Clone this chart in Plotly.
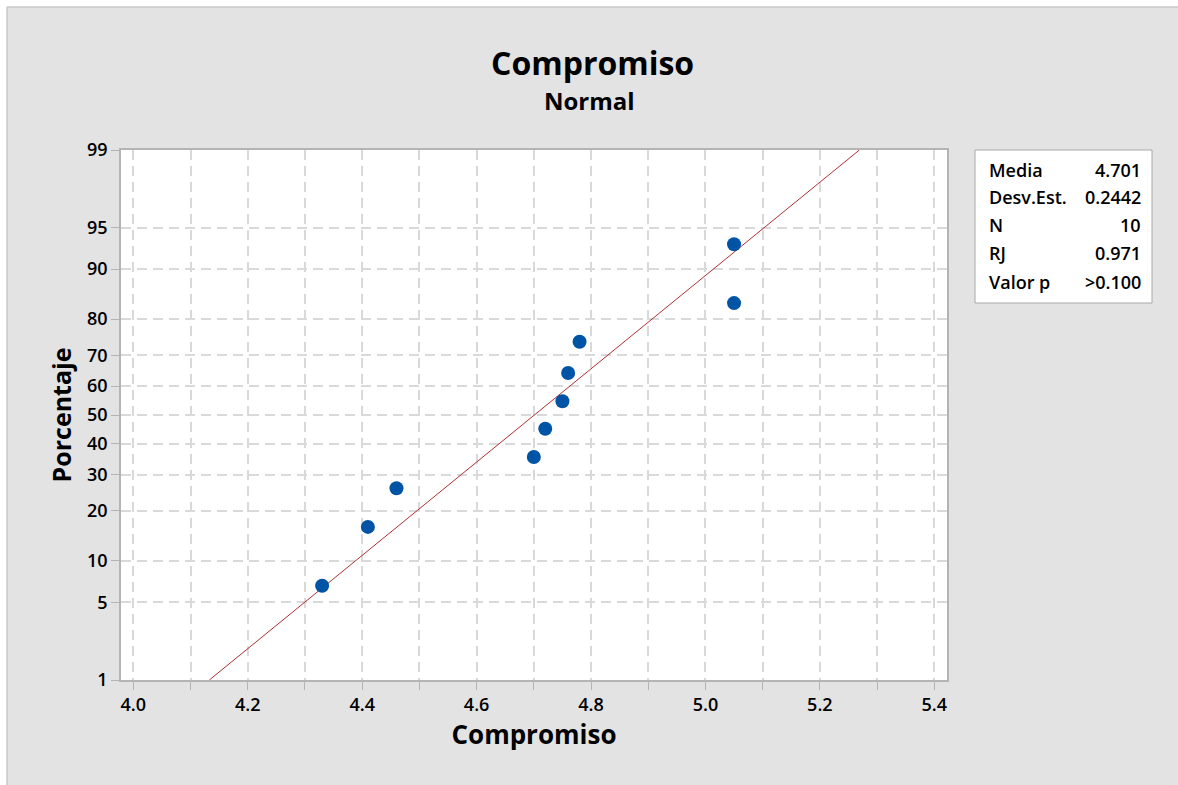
from statistics import NormalDist
import plotly.graph_objects as go

# ---- data ----
compromiso = [4.33, 4.41, 4.46, 4.70, 4.72, 4.75, 4.76, 4.78, 5.05, 5.05]
porcentaje = [6.7, 16.3, 26.0, 35.6, 45.2, 54.8, 64.4, 74.0, 83.7, 93.3]
media = 4.701
desv_est = 0.2442
fit_pct = [1, 99]
y_tick_pct = [1, 5, 10, 20, 30, 40, 50, 60, 70, 80, 90, 95, 99]
x_tick_vals = [4.0, 4.1, 4.2, 4.3, 4.4, 4.5, 4.6, 4.7, 4.8, 4.9, 5.0, 5.1, 5.2, 5.3, 5.4]
x_tick_text = ["4.0", "", "4.2", "", "4.4", "", "4.6", "", "4.8", "", "5.0", "", "5.2", "", "5.4"]
stats_labels = ["Media", "Desv.Est.", "N", "RJ", "Valor p"]
stats_values = ["4.701", "0.2442", "10", "0.971", ">0.100"]

nd = NormalDist()
def z(p):
    return nd.inv_cdf(p / 100.0)

fit_z = [z(p) for p in fit_pct]
fit_x = [media + desv_est * zz for zz in fit_z]

FONT = "Open Sans"
fig = go.Figure()
fig.add_trace(go.Scatter(x=fit_x, y=fit_z, mode="lines",
                         line=dict(color="#b03030", width=1), hoverinfo="skip"))
fig.add_trace(go.Scatter(x=compromiso, y=[z(p) for p in porcentaje], mode="markers",
                         marker=dict(color="#0054a6", size=14)))

W, H = 1178, 785
ml, mr, mt, mb = 121, 231, 150, 105
pw, ph = W - ml - mr, H - mt - mb
def px(xp):
    return (xp - ml) / pw
def py(yp):
    return (H - mb - yp) / ph

shapes = [
    # white outer margin on top and left
    dict(type="rect", xref="paper", yref="paper", layer="above",
         x0=px(-5), x1=px(W + 5), y0=py(7), y1=py(-5),
         fillcolor="white", line=dict(width=0)),
    dict(type="rect", xref="paper", yref="paper", layer="above",
         x0=px(-5), x1=px(7), y0=py(H + 5), y1=py(-5),
         fillcolor="white", line=dict(width=0)),
    dict(type="line", xref="paper", yref="paper",
         x0=px(7), x1=px(W + 5), y0=py(7), y1=py(7),
         line=dict(color="#c8c8c8", width=1.5)),
    dict(type="line", xref="paper", yref="paper",
         x0=px(7), x1=px(7), y0=py(7), y1=py(H + 5),
         line=dict(color="#c8c8c8", width=1.5)),
    # statistics box
    dict(type="rect", xref="paper", yref="paper",
         x0=px(975), x1=px(1152), y0=py(303), y1=py(150),
         fillcolor="white", line=dict(color="#a8a8a8", width=1)),
]
annotations = []
row_y = [170, 197, 225, 253, 282]
for lab, val, ry in zip(stats_labels, stats_values, row_y):
    annotations.append(dict(xref="paper", yref="paper", x=px(987), y=py(ry),
                            text=lab, showarrow=False, xanchor="left", yanchor="middle",
                            font=dict(family=FONT, size=18, color="black", weight=600)))
    annotations.append(dict(xref="paper", yref="paper", x=px(1143), y=py(ry),
                            text=val, showarrow=False, xanchor="right", yanchor="middle",
                            font=dict(family=FONT, size=18, color="black", weight=600)))
annotations.append(dict(xref="paper", yref="paper", x=px(592), y=py(62),
                        text="<b>Compromiso</b>", showarrow=False, xanchor="center", yanchor="middle",
                        font=dict(family=FONT, size=32, color="black")))
annotations.append(dict(xref="paper", yref="paper", x=px(589), y=py(100),
                        text="<b>Normal</b>", showarrow=False, xanchor="center", yanchor="middle",
                        font=dict(family=FONT, size=24, color="black")))

tickfont = dict(family=FONT, size=18, color="black", weight=600)
grid = dict(showgrid=True, gridcolor="#d9d9d9", griddash="10px,6px", gridwidth=2,
            showline=True, linecolor="#b4b4b4", linewidth=1.5, mirror=True,
            ticks="outside", ticklen=8, tickcolor="#b4b4b4", zeroline=False,
            tickfont=tickfont)

fig.update_layout(
    width=W, height=H,
    margin=dict(l=ml, r=mr, t=mt, b=mb, autoexpand=False),
    paper_bgcolor="#e3e3e3", plot_bgcolor="white",
    showlegend=False,
    shapes=shapes, annotations=annotations,
    font=dict(family=FONT, color="black"),
    xaxis=dict(range=[3.9785, 5.4222], tickvals=x_tick_vals, ticktext=x_tick_text,
               title=dict(text="<b>Compromiso</b>", font=dict(family=FONT, size=26), standoff=10),
               **grid),
    yaxis=dict(range=[z(1), z(99)], tickvals=[z(p) for p in y_tick_pct],
               ticktext=[str(p) for p in y_tick_pct],
               title=dict(text="<b>Porcentaje</b>", font=dict(family=FONT, size=25), standoff=8),
               **grid),
)

fig.write_html("out.html", config={"displayModeBar": False},
               post_script="document.body.style.margin='0px';")
